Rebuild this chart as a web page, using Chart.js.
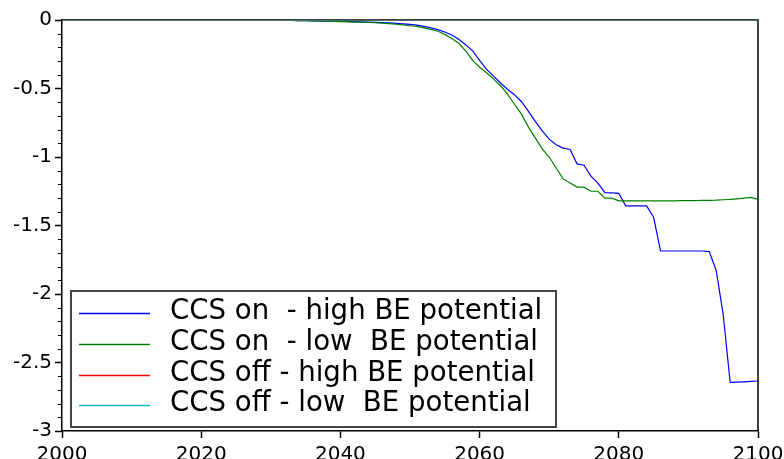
<!DOCTYPE html>
<html>
<head>
<meta charset="utf-8">
<script src="https://cdn.jsdelivr.net/npm/chart.js@4.4.1/dist/chart.umd.min.js"></script>
<style>
html,body{margin:0;padding:0;background:#fff;}
#wrap{width:784px;height:459px;position:relative;}
</style>
</head>
<body>
<div id="wrap"><canvas id="c" width="784" height="459"></canvas></div>
<script>
const years = [2000,2001,2002,2003,2004,2005,2006,2007,2008,2009,2010,2011,2012,2013,2014,2015,2016,2017,2018,2019,
2020,2021,2022,2023,2024,2025,2026,2027,2028,2029,2030,2031,2032,2033,2034,2035,2036,2037,2038,2039,
2040,2041,2042,2043,2044,2045,2046,2047,2048,2049,2050,2051,2052,2053,2054,2055,2056,2057,2058,2059,
2060,2061,2062,2063,2064,2065,2066,2067,2068,2069,2070,2071,2072,2073,2074,2075,2076,2077,2078,2079,
2080,2081,2082,2083,2084,2085,2086,2087,2088,2089,2090,2091,2092,2093,2094,2095,2096,2097,2098,2099,2100];

const ccsOnHigh = [0,0,0,0,0,0,0,0,0,0, 0,0,0,0,0,0,0,0,0,0, 0,0,0,0,0,0,0,0,0,0, 0,
-0.001,-0.002,-0.003,-0.004,-0.005,-0.006,-0.007,-0.008,-0.009,
-0.010,-0.011,-0.012,-0.014,-0.015,-0.017,-0.019,-0.021,-0.024,-0.028,
-0.032,-0.038,-0.046,-0.057,-0.070,-0.088,-0.110,-0.140,-0.180,-0.225,
-0.295,-0.360,-0.410,-0.460,-0.505,-0.545,-0.595,-0.665,-0.740,-0.810,
-0.870,-0.910,-0.935,-0.945,-1.050,-1.060,-1.140,-1.190,-1.260,-1.262,
-1.266,-1.357,-1.357,-1.357,-1.357,-1.440,-1.686,-1.686,-1.686,-1.686,
-1.686,-1.686,-1.686,-1.690,-1.830,-2.150,-2.645,-2.643,-2.641,-2.638,-2.635];

const ccsOnLow = [0,0,0,0,0,0,0,0,0,0, 0,0,0,0,0,0,0,0,0,0, 0,0,0,0,0,0,0,0,0,0, 0,
-0.001,-0.002,-0.003,-0.004,-0.005,-0.007,-0.008,-0.009,-0.011,
-0.012,-0.013,-0.015,-0.016,-0.018,-0.020,-0.023,-0.027,-0.031,-0.036,
-0.042,-0.047,-0.057,-0.069,-0.082,-0.105,-0.135,-0.170,-0.225,-0.295,
-0.345,-0.385,-0.430,-0.480,-0.540,-0.615,-0.685,-0.780,-0.860,-0.940,
-1.000,-1.080,-1.160,-1.190,-1.220,-1.220,-1.250,-1.250,-1.300,-1.300,
-1.320,-1.320,-1.320,-1.320,-1.320,-1.320,-1.320,-1.320,-1.320,-1.319,
-1.319,-1.318,-1.317,-1.316,-1.315,-1.312,-1.310,-1.305,-1.300,-1.295,-1.310];

const ccsOffHigh = [0,0,0,0,0,0,0,0,0,0, 0,0,0,0,0,0,0,0,0,0, 0,0,0,0,0,0,0,0,0,0,
0,0,0,0,0,0,0,0,0,0, 0,0,0,0,0,0,0,0,0,0, 0,0,0,0,0,0,0,0,0,0,
0,0,0,0,0,0,0,0,0,0, 0,0,0,0,0,0,0,0,0,0, 0,0,0,0,0,0,0,0,0,0,
0,0,0,0,0,0,0,0,0,0, 0];

const ccsOffLow = [0,0,0,0,0,0,0,0,0,0, 0,0,0,0,0,0,0,0,0,0, 0,0,0,0,0,0,0,0,0,0,
0,0,0,0,0,0,0,0,0,0, 0,0,0,0,0,0,0,0,0,0, 0,0,0,0,0,0,0,0,0,0,
0,0,0,0,0,0,0,0,0,0, 0,0,0,0,0,0,0,0,0,0, 0,0,0,0,0,0,0,0,0,0,
0,0,0,0,0,0,0,0,0,0, 0];

const seriesLabels = ['CCS on  - high BE potential','CCS on  - low  BE potential','CCS off - high BE potential','CCS off - low  BE potential'];
const seriesColors = ['#0000ff','#008000','#ff0000','#00bfbf'];
const xTicks = [2000,2020,2040,2060,2080,2100];
const yTicks = [0,-0.5,-1,-1.5,-2,-2.5,-3];

const FONT = 'DejaVu Sans';

function pts(arr){ return years.map((y,i)=>({x:y,y:arr[i]})); }
const allSeries = [ccsOnHigh, ccsOnLow, ccsOffHigh, ccsOffLow];

const framePlugin = {
  id:'frame',
  beforeDatasetsDraw(chart){
    const {ctx, chartArea:a} = chart;
    ctx.save();
    ctx.strokeStyle = '#000';
    ctx.lineWidth = 1.5;
    ctx.beginPath();
    ctx.moveTo(a.left, a.top); ctx.lineTo(a.right, a.top); ctx.lineTo(a.right, a.bottom);
    ctx.stroke();
    // minor ticks on y axis
    const ys = chart.scales.y;
    ctx.lineWidth = 1;
    for(let k=0;k<=30;k++){
      if (k%5===0) continue;
      const py = Math.round(ys.getPixelForValue(-k/10))+0.5;
      ctx.beginPath(); ctx.moveTo(a.left-4, py); ctx.lineTo(a.left, py); ctx.stroke();
    }
    ctx.restore();
  },
  afterDraw(chart){
    const {ctx} = chart;
    ctx.save();
    const bx=71, by=291, bw=485, bh=136;
    ctx.fillStyle='#fff';
    ctx.fillRect(bx,by,bw,bh);
    ctx.strokeStyle='#444';
    ctx.lineWidth=2;
    ctx.strokeRect(bx,by,bw,bh);
    ctx.font = '27.6px "'+FONT+'"';
    ctx.textBaseline='alphabetic';
    ctx.textAlign='left';
    chart.data.datasets.forEach((ds,i)=>{
      const cy = 313 + i*30.8;
      ctx.strokeStyle = ds.borderColor;
      ctx.lineWidth = 1.5;
      ctx.beginPath(); ctx.moveTo(79, Math.round(cy)+0.5); ctx.lineTo(150, Math.round(cy)+0.5); ctx.stroke();
      ctx.fillStyle='#000';
      ctx.fillText(ds.label, 170, cy+6);
    });
    ctx.restore();
  }
};

new Chart(document.getElementById('c'), {
  type:'line',
  data:{
    datasets: allSeries.map((arr,i)=>({
      label: seriesLabels[i],
      data: pts(arr),
      borderColor: seriesColors[i],
      backgroundColor: seriesColors[i],
      borderWidth: 1.2,
      pointRadius: 0,
      tension: 0,
      fill: false,
      order: 3 - i
    }))
  },
  options:{
    responsive:false,
    animation:false,
    devicePixelRatio:1,
    layout:{padding:{top:20,right:26,bottom:0,left:0}},
    plugins:{legend:{display:false}, tooltip:{enabled:false}},
    scales:{
      x:{
        type:'linear', min:2000, max:2100,
        afterBuildTicks(s){ s.ticks = xTicks.map(v=>({value:v})); },
        afterFit(s){ s.height = 28; s.paddingLeft = 0; s.paddingRight = 0; },
        ticks:{ color:'#000', font:{family:FONT, size:20}, padding:5, maxRotation:0, autoSkip:false,
          callback:(v)=>String(v) },
        grid:{ drawOnChartArea:false, tickLength:7, tickColor:'#000', tickWidth:1.5 },
        border:{ color:'#000', width:1.5 }
      },
      y:{
        type:'linear', min:-3, max:0,
        afterBuildTicks(s){ s.ticks = yTicks.map(v=>({value:v})); },
        afterFit(s){ s.width = 62; s.paddingTop = 0; s.paddingBottom = 0; },
        ticks:{ color:'#000', font:{family:FONT, size:20}, padding:3, autoSkip:false,
          callback:(v)=>String(v) },
        grid:{ drawOnChartArea:false, tickLength:7, tickColor:'#000', tickWidth:1.5 },
        border:{ color:'#000', width:1.5 }
      }
    }
  },
  plugins:[framePlugin]
});
</script>
</body>
</html>
